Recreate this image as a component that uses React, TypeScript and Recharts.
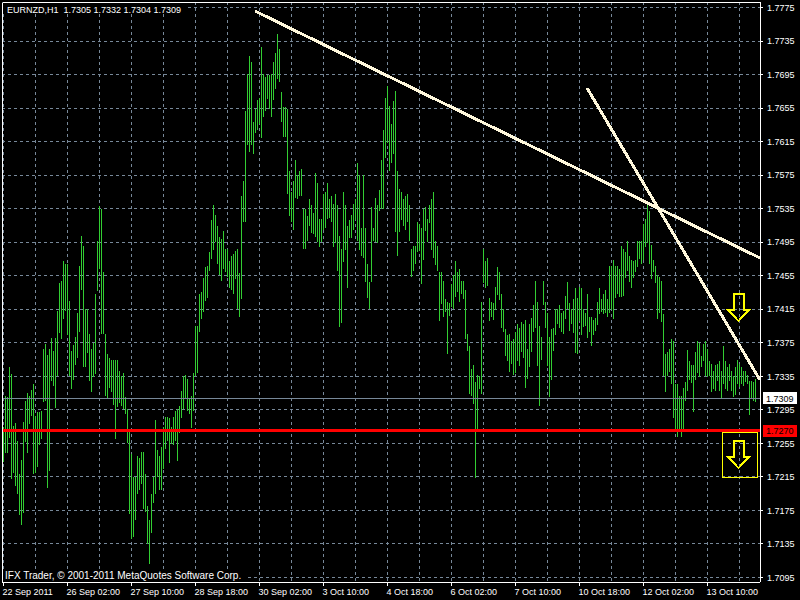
import React from 'react';
import {
  ComposedChart,
  Bar,
  XAxis,
  YAxis,
  CartesianGrid,
  ReferenceLine,
  ReferenceArea,
  ReferenceDot,
} from 'recharts';

const FONT = '"Liberation Sans", Arial, sans-serif';

// H1 bars, high / low, starting 22 Sep 2011 18:00
const highs = [
  1.7275, 1.7311, 1.7310, 1.7346, 1.7338, 1.7276, 1.7279, 1.7258, 1.7219, 1.7235,
  1.7280, 1.7305, 1.7315, 1.7311, 1.7319, 1.7326, 1.7288, 1.7293, 1.7293, 1.7294,
  1.7367, 1.7374, 1.7360, 1.7367, 1.7381, 1.7365, 1.7381, 1.7413, 1.7446, 1.7449,
  1.7472, 1.7469, 1.7469, 1.7425, 1.7365, 1.7372, 1.7382, 1.7411, 1.7467, 1.7502,
  1.7490, 1.7415, 1.7415, 1.7386, 1.7368, 1.7375, 1.7433, 1.7496, 1.7538, 1.7535,
  1.7460, 1.7386, 1.7362, 1.7357, 1.7355, 1.7355, 1.7355, 1.7355, 1.7341, 1.7335,
  1.7339, 1.7310, 1.7296, 1.7269, 1.7242, 1.7215, 1.7215, 1.7240, 1.7238, 1.7245,
  1.7245, 1.7218, 1.7180, 1.7164, 1.7195, 1.7215, 1.7283, 1.7247, 1.7240, 1.7251,
  1.7274, 1.7287, 1.7287, 1.7285, 1.7274, 1.7287, 1.7294, 1.7296, 1.7299, 1.7317,
  1.7335, 1.7337, 1.7332, 1.7308, 1.7312,
  1.7339, 1.7395, 1.7395, 1.7433, 1.7436, 1.7452, 1.7465, 1.7467, 1.7483, 1.7521,
  1.7539, 1.7528, 1.7514, 1.7501, 1.7499, 1.7508, 1.7487, 1.7487, 1.7472, 1.7478,
  1.7481, 1.7485, 1.7487, 1.7458, 1.7550, 1.7568, 1.7651, 1.7696, 1.7717, 1.7710,
  1.7638, 1.7654, 1.7665, 1.7667, 1.7728, 1.7696, 1.7692, 1.7694, 1.7694, 1.7696,
  1.7710, 1.7721, 1.7744, 1.7726, 1.7674, 1.7656, 1.7656, 1.7654, 1.7580, 1.7555,
  1.7568, 1.7593, 1.7575, 1.7580, 1.7582, 1.7535, 1.7535, 1.7526, 1.7546, 1.7539,
  1.7530, 1.7577, 1.7566, 1.7523, 1.7523, 1.7553, 1.7555, 1.7566, 1.7546, 1.7550,
  1.7541, 1.7553, 1.7539, 1.7503, 1.7487, 1.7555, 1.7539, 1.7514, 1.7521, 1.7528,
  1.7541, 1.7546, 1.7589, 1.7575, 1.7512, 1.7575, 1.7512, 1.7469, 1.7447, 1.7537,
  1.7512, 1.7548, 1.7539, 1.7557, 1.7593,
  1.7629, 1.7667, 1.7681, 1.7658, 1.7636, 1.7663, 1.7676, 1.7580, 1.7559, 1.7555,
  1.7546, 1.7550, 1.7553, 1.7539, 1.7487, 1.7490, 1.7490, 1.7519, 1.7517, 1.7512,
  1.7535, 1.7537, 1.7523, 1.7539, 1.7546, 1.7555, 1.7496, 1.7490, 1.7460, 1.7460,
  1.7449, 1.7427, 1.7424, 1.7422, 1.7445, 1.7456, 1.7472, 1.7460, 1.7463, 1.7449,
  1.7449, 1.7438, 1.7386, 1.7371, 1.7344, 1.7348, 1.7328, 1.7337, 1.7335, 1.7424,
  1.7487, 1.7472, 1.7476, 1.7429, 1.7424, 1.7422, 1.7442, 1.7465, 1.7460, 1.7433,
  1.7415, 1.7391, 1.7384, 1.7386, 1.7377, 1.7380, 1.7388, 1.7397, 1.7393, 1.7400,
  1.7397, 1.7402, 1.7368, 1.7397, 1.7404, 1.7420, 1.7449, 1.7424, 1.7395, 1.7382,
  1.7449, 1.7424, 1.7411, 1.7382, 1.7391, 1.7393, 1.7415, 1.7415, 1.7420, 1.7411,
  1.7413, 1.7431, 1.7447, 1.7422, 1.7415,
  1.7427, 1.7440, 1.7429, 1.7442, 1.7440, 1.7415, 1.7411, 1.7433, 1.7406, 1.7406,
  1.7402, 1.7404, 1.7424, 1.7440, 1.7427, 1.7433, 1.7438, 1.7427, 1.7467, 1.7467,
  1.7474, 1.7467, 1.7467, 1.7463, 1.7490, 1.7487, 1.7483, 1.7496, 1.7478, 1.7474,
  1.7472, 1.7474, 1.7496, 1.7496, 1.7496, 1.7517, 1.7523, 1.7539, 1.7532, 1.7492,
  1.7474, 1.7467, 1.7456, 1.7454, 1.7449, 1.7409, 1.7362, 1.7364, 1.7368, 1.7380,
  1.7377, 1.7326, 1.7326, 1.7312, 1.7312, 1.7321, 1.7328, 1.7366, 1.7353, 1.7348,
  1.7348, 1.7364, 1.7377, 1.7375, 1.7359, 1.7373, 1.7377, 1.7368, 1.7353, 1.7350,
  1.7341, 1.7348, 1.7350, 1.7353, 1.7341, 1.7371, 1.7353, 1.7346, 1.7350, 1.7341,
  1.7335, 1.7346, 1.7355, 1.7350, 1.7346, 1.7341, 1.7341, 1.7337, 1.7330, 1.7330,
  1.7328, 1.7332,
];

const lows = [
  1.7233, 1.7243, 1.7243, 1.7261, 1.7213, 1.7220, 1.7204, 1.7195, 1.7170, 1.7158,
  1.7171, 1.7256, 1.7244, 1.7278, 1.7288, 1.7219, 1.7220, 1.7227, 1.7254, 1.7260,
  1.7304, 1.7306, 1.7201, 1.7221, 1.7330, 1.7323, 1.7298, 1.7335, 1.7386, 1.7380,
  1.7403, 1.7413, 1.7384, 1.7335, 1.7320, 1.7330, 1.7348, 1.7357, 1.7388, 1.7438,
  1.7346, 1.7346, 1.7362, 1.7330, 1.7317, 1.7335, 1.7337, 1.7436, 1.7463, 1.7386,
  1.7386, 1.7312, 1.7310, 1.7321, 1.7317, 1.7301, 1.7261, 1.7299, 1.7303, 1.7299,
  1.7296, 1.7290, 1.7256, 1.7171, 1.7141, 1.7143, 1.7164, 1.7195, 1.7200, 1.7207,
  1.7177, 1.7173, 1.7135, 1.7111, 1.7148, 1.7184, 1.7195, 1.7215, 1.7200, 1.7200,
  1.7224, 1.7249, 1.7258, 1.7231, 1.7254, 1.7254, 1.7258, 1.7234, 1.7267, 1.7285,
  1.7296, 1.7308, 1.7294, 1.7290, 1.7274,
  1.7294, 1.7335, 1.7339, 1.7388, 1.7404, 1.7411, 1.7424, 1.7429, 1.7460, 1.7474,
  1.7485, 1.7496, 1.7469, 1.7456, 1.7449, 1.7463, 1.7460, 1.7454, 1.7440, 1.7438,
  1.7433, 1.7452, 1.7415, 1.7406, 1.7427, 1.7519, 1.7519, 1.7611, 1.7602, 1.7611,
  1.7600, 1.7625, 1.7629, 1.7636, 1.7620, 1.7645, 1.7651, 1.7665, 1.7654, 1.7645,
  1.7665, 1.7678, 1.7690, 1.7687, 1.7638, 1.7620, 1.7620, 1.7553, 1.7526, 1.7519,
  1.7510, 1.7548, 1.7546, 1.7550, 1.7550, 1.7487, 1.7487, 1.7496, 1.7514, 1.7505,
  1.7505, 1.7501, 1.7496, 1.7490, 1.7496, 1.7510, 1.7512, 1.7523, 1.7523, 1.7519,
  1.7490, 1.7494, 1.7460, 1.7395, 1.7399, 1.7472, 1.7485, 1.7440, 1.7499, 1.7501,
  1.7510, 1.7521, 1.7496, 1.7485, 1.7478, 1.7476, 1.7447, 1.7429, 1.7415, 1.7447,
  1.7496, 1.7496, 1.7494, 1.7532, 1.7535,
  1.7535, 1.7595, 1.7613, 1.7580, 1.7589, 1.7600, 1.7508, 1.7479, 1.7508, 1.7521,
  1.7514, 1.7510, 1.7519, 1.7496, 1.7454, 1.7460, 1.7469, 1.7483, 1.7485, 1.7445,
  1.7474, 1.7508, 1.7496, 1.7517, 1.7485, 1.7476, 1.7467, 1.7460, 1.7402, 1.7422,
  1.7406, 1.7411, 1.7362, 1.7406, 1.7418, 1.7415, 1.7429, 1.7436, 1.7424, 1.7433,
  1.7427, 1.7380, 1.7366, 1.7314, 1.7312, 1.7301, 1.7213, 1.7269, 1.7319, 1.7314,
  1.7447, 1.7440, 1.7442, 1.7402, 1.7406, 1.7402, 1.7415, 1.7431, 1.7427, 1.7393,
  1.7388, 1.7359, 1.7353, 1.7341, 1.7350, 1.7337, 1.7339, 1.7353, 1.7348, 1.7364,
  1.7357, 1.7321, 1.7332, 1.7346, 1.7364, 1.7388, 1.7393, 1.7348, 1.7299, 1.7355,
  1.7420, 1.7393, 1.7348, 1.7310, 1.7330, 1.7366, 1.7384, 1.7397, 1.7393, 1.7388,
  1.7386, 1.7404, 1.7415, 1.7388, 1.7397,
  1.7386, 1.7362, 1.7362, 1.7402, 1.7384, 1.7393, 1.7395, 1.7380, 1.7388, 1.7371,
  1.7384, 1.7388, 1.7397, 1.7409, 1.7411, 1.7409, 1.7411, 1.7406, 1.7411, 1.7415,
  1.7404, 1.7429, 1.7433, 1.7429, 1.7429, 1.7431, 1.7452, 1.7460, 1.7447, 1.7440,
  1.7452, 1.7460, 1.7465, 1.7474, 1.7469, 1.7474, 1.7490, 1.7494, 1.7469, 1.7452,
  1.7460, 1.7447, 1.7404, 1.7411, 1.7400, 1.7335, 1.7317, 1.7335, 1.7341, 1.7326,
  1.7285, 1.7269, 1.7263, 1.7272, 1.7263, 1.7272, 1.7305, 1.7317, 1.7330, 1.7326,
  1.7292, 1.7330, 1.7339, 1.7335, 1.7346, 1.7353, 1.7335, 1.7335, 1.7335, 1.7317,
  1.7319, 1.7317, 1.7330, 1.7317, 1.7308, 1.7326, 1.7319, 1.7317, 1.7330, 1.7317,
  1.7310, 1.7312, 1.7326, 1.7323, 1.7326, 1.7323, 1.7328, 1.7326, 1.7290, 1.7308,
  1.7305, 1.7304,
];

// one label every 32 bars
const timeLabels = [
  '22 Sep 2011', '26 Sep 02:00', '27 Sep 10:00', '28 Sep 18:00', '30 Sep 02:00', '3 Oct 10:00',
  '4 Oct 18:00', '6 Oct 02:00', '7 Oct 10:00', '10 Oct 18:00', '12 Oct 02:00', '13 Oct 10:00',
];

const priceTicks = [
  1.7775, 1.7735, 1.7695, 1.7655, 1.7615, 1.7575, 1.7535, 1.7495, 1.7455,
  1.7415, 1.7375, 1.7335, 1.7295, 1.7255, 1.7215, 1.7175, 1.7135, 1.7095,
];

const symbol = 'EURNZD,H1';
const lastBar = [1.7305, 1.7332, 1.7304, 1.7309];
const bid = 1.7309;
const level = 1.727;

// drawn objects (bar index, price)
const trendA = [{ x: 125.75, y: 1.77708 }, { x: 378.25, y: 1.74762 }];
const trendB = [{ x: 291.75, y: 1.7679 }, { x: 378.25, y: 1.73306 }];
const arrowBar = 367.5;
const arrowTops = [1.74332, 1.72578];
const signalBox = { x1: 359.25, x2: 376.75, y1: 1.72674, y2: 1.72137 };

const data = highs.map((h, i) => ({ i, range: [lows[i], h] }));
const xTicks = Array.from({ length: 24 }, (_, k) => k * 16);

function HLBar(props: any) {
  const { x, y, width, height, fill } = props;
  if (x == null || y == null) return <g />;
  const cx = Math.floor(x + width / 2);
  const top = Math.min(y, y + height);
  return (
    <rect x={cx} y={Math.round(top)} width={1} height={Math.max(1, Math.round(Math.abs(height)))} fill={fill} />
  );
}

function TimeTick(props: any) {
  const { x, y, payload } = props;
  if (payload.value % 32 !== 0) return <g />;
  const label = timeLabels[payload.value / 32];
  return (
    <g>
      <line x1={x} y1={y} x2={x} y2={y + 4} stroke="#fff" />
      <text x={x - 1} y={y + 13} fill="#fff" fontSize={9} fontFamily={FONT}>
        {label}
      </text>
    </g>
  );
}

function PriceTag({ viewBox, text, bg, color }: any) {
  if (!viewBox) return null;
  const x = viewBox.x + viewBox.width;
  const y = viewBox.y;
  return (
    <g>
      <rect x={x + 3} y={y - 6} width={34} height={12} fill={bg} />
      <text x={x + 6} y={y + 3.5} fill={color} fontSize={9} fontFamily={FONT}>
        {text}
      </text>
    </g>
  );
}

function DownArrow(props: any) {
  const { cx, cy } = props;
  const pts = [[-5, 0], [5, 0], [5, 16], [10.5, 16], [0, 27], [-10.5, 16], [-5, 16]];
  return (
    <polygon
      points={pts.map(([dx, dy]) => `${cx + dx},${cy + dy}`).join(' ')}
      fill="none"
      stroke="#FFFF00"
      strokeWidth={2}
    />
  );
}

export default function App() {
  return (
    <div style={{ position: 'relative', width: 800, height: 600, background: '#000', shapeRendering: 'crispEdges' }}>
      <style>{'body{margin:0;background:#000}'}</style>
      <ComposedChart
        width={800}
        height={600}
        data={data}
        margin={{ top: 2, right: 0, bottom: 0, left: 2 }}
      >
        <CartesianGrid stroke="#778899" strokeDasharray="3 3" />
        <XAxis
          type="number"
          dataKey="i"
          domain={[-0.75, 378.25]}
          allowDataOverflow
          ticks={xTicks}
          interval={0}
          height={18}
          tickSize={0}
          tickMargin={0}
          tickLine={false}
          axisLine={{ stroke: '#fff' }}
          tick={<TimeTick />}
        />
        <YAxis
          orientation="right"
          domain={[1.70896, 1.77816]}
          allowDataOverflow
          ticks={priceTicks}
          interval={0}
          width={40}
          tickSize={3}
          tickMargin={4}
          axisLine={{ stroke: '#fff' }}
          tickLine={{ stroke: '#fff' }}
          tick={{ fill: '#fff', fontSize: 9, fontFamily: FONT }}
          tickFormatter={(v: number) => v.toFixed(4)}
        />
        <Bar dataKey="range" barSize={1} fill="#32CD32" shape={<HLBar />} isAnimationActive={false} />
        <ReferenceLine
          y={bid}
          stroke="#778899"
          ifOverflow="visible"
          label={(p: any) => <PriceTag viewBox={p.viewBox} text={bid.toFixed(4)} bg="#fff" color="#000" />}
        />
        <ReferenceLine
          y={level}
          stroke="#FF0000"
          strokeWidth={3}
          ifOverflow="visible"
          label={(p: any) => <PriceTag viewBox={p.viewBox} text={level.toFixed(4)} bg="#FF0000" color="#000" />}
        />
        <ReferenceLine segment={trendA} stroke="#FFF8DC" strokeWidth={3} ifOverflow="visible" />
        <ReferenceLine segment={trendB} stroke="#FFF8DC" strokeWidth={3} ifOverflow="visible" />
        <ReferenceArea
          x1={signalBox.x1}
          x2={signalBox.x2}
          y1={signalBox.y1}
          y2={signalBox.y2}
          fill="none"
          stroke="#FFFF00"
          strokeWidth={1}
          ifOverflow="visible"
        />
        {arrowTops.map((p, k) => (
          <ReferenceDot key={k} x={arrowBar} y={p} r={1} shape={<DownArrow />} ifOverflow="visible" />
        ))}
      </ComposedChart>
      <svg
        width={800}
        height={600}
        style={{ position: 'absolute', left: 0, top: 0, pointerEvents: 'none' }}
      >
        <line x1={2.5} y1={2.5} x2={760.5} y2={2.5} stroke="#fff" />
        <line x1={2.5} y1={2.5} x2={2.5} y2={582.5} stroke="#fff" />
        <rect x={3} y={3} width={184} height={11} fill="#000" />
        <text x={7} y={13} fill="#fff" fontSize={9} fontFamily={FONT} style={{ whiteSpace: 'pre' }}>
          {`${symbol}  ${lastBar.map((v) => v.toFixed(4)).join(' ')}`}
        </text>
        <rect x={3} y={571} width={243} height={10} fill="#000" />
        <text x={5} y={579} fill="#fff" fontSize={10} fontFamily={FONT}>
          IFX Trader, © 2001-2011 MetaQuotes Software Corp.
        </text>
      </svg>
    </div>
  );
}
